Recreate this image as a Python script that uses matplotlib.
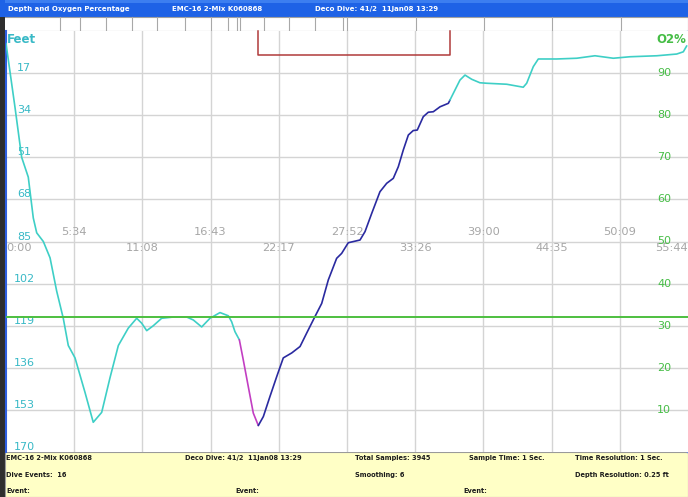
import numpy as np
import matplotlib
matplotlib.use("Agg")
import matplotlib.pyplot as plt
from matplotlib.patches import Rectangle
from matplotlib.transforms import blended_transform_factory, offset_copy

# ---------------- data ----------------
time_min = [0.0, 0.74, 1.28, 1.82, 2.23, 2.51, 3.05, 3.60, 4.14, 4.68,
            5.09, 5.64, 6.46, 7.13, 7.82, 8.50, 9.18, 9.99, 10.68, 11.09,
            11.50, 12.04, 12.72, 13.67, 14.77, 15.31, 15.99, 16.67, 17.49, 18.17,
            18.44, 18.71, 19.07, 19.39, 19.80, 20.21, 20.62, 21.03, 21.57, 22.12,
            22.66, 23.35, 24.03, 24.57, 25.25, 25.80, 26.34, 27.02, 27.43, 27.97,
            28.93, 29.34, 29.89, 30.56, 31.11, 31.65, 32.06, 32.47, 32.88, 33.28,
            33.61, 34.10, 34.51, 34.92, 35.47, 36.15, 36.42, 37.10, 37.51, 38.06,
            38.73, 39.28, 40.92, 42.27, 42.55, 43.09, 43.50, 45.00, 46.64, 48.13,
            49.63, 50.99, 53.18, 54.81, 55.35, 55.63]
depth_ft = [5, 31, 51, 59, 75.5, 81.5, 85, 91.6, 105, 116,
            127, 132, 146, 158, 154, 140, 127, 120, 116, 118,
            121, 119, 116, 115.5, 115.5, 116.7, 119.5, 116, 113.7, 115,
            117.4, 121.4, 124.7, 132.8, 143.6, 154.3, 159.3, 155.7, 147.6, 139.6,
            132, 130, 127.4, 122, 115.3, 110, 100.5, 91.8, 89.8, 85.5,
            84.4, 81, 73.6, 64.9, 61.5, 59.5, 54.8, 48, 42, 40.2,
            40, 34.6, 32.8, 32.6, 30.6, 29.2, 26.5, 19.8, 17.8, 19.5,
            20.9, 21.1, 21.5, 22.7, 21.1, 14.4, 11.3, 11.3, 11, 10,
            11, 10.4, 10, 9.3, 8.4, 6]

fast_descent_start = 19.07   # magenta segment start (min)
bottom_time = 20.62          # blue ascent start (min)
ascent_end = 36.28           # blue ascent end (min)
o2_percent = 32

dive_seconds = 3344
time_tick_sec = [0, 334, 668, 1003, 1337, 1672, 2006, 2340, 2675, 3009, 3344]
time_labels = ["0:00", "5:34", "11:08", "16:43", "22:17", "27:52",
               "33:26", "39:00", "44:35", "50:09", "55:44"]
depth_ticks = [17, 34, 51, 68, 85, 102, 119, 136, 153, 170]
o2_ticks = [10, 20, 30, 40, 50, 60, 70, 80, 90]

header_texts = ["Depth and Oxygen Percentage", "EMC-16 2-Mix K060868",
                "Deco Dive: 41/2  11Jan08 13:29"]
footer_row1 = ["EMC-16 2-Mix K060868", "Deco Dive: 41/2  11Jan08 13:29",
               "Total Samples: 3945", "Sample Time: 1 Sec.", "Time Resolution: 1 Sec."]
footer_row2 = ["Dive Events:  16", "Smoothing: 6", "Depth Resolution: 0.25 ft"]
footer_row3 = ["Event:", "Event:", "Event:"]

# ---------------- colours ----------------
CYAN = "#3ECFC6"
MAGENTA = "#C23EC2"
BLUE = "#2A2AA0"
GREEN = "#4DBF3F"
DEPTH_LBL = "#38B9C6"
O2_LBL = "#46BD46"
TIME_LBL = "#A6A6A6"
GRID = "#D4D4D4"

W, H = 688, 497
fig = plt.figure(figsize=(W / 100, H / 100), dpi=100)

# overlay in pixel coordinates for the window chrome
ov = fig.add_axes([0, 0, 1, 1], zorder=0)
ov.set_xlim(0, W)
ov.set_ylim(H, 0)
ov.axis("off")

# header bar
ov.add_patch(Rectangle((0, 0), W, 17, color="#1E62E6", lw=0))
ov.add_patch(Rectangle((0, 0), W, 3, color="#3C7EF0", lw=0))
for x, s in zip([8, 172, 315], header_texts):
    ov.text(x, 9, s, color="white", fontsize=5.0, fontweight="bold",
            va="center", ha="left")
# strip
ov.add_patch(Rectangle((0, 17), W, 14, facecolor="white", edgecolor="#A0A0A0", lw=0.8))
for x in [60, 80, 106, 132, 157, 185, 211, 228, 237, 240, 264, 289, 315,
          343, 347, 416, 484, 552, 621]:
    ov.plot([x, x], [17, 31], color="#A8A8A8", lw=0.8)
# left dark frame
ov.add_patch(Rectangle((0, 0), 5, H, color="#2E2E2E", lw=0))
ov.add_patch(Rectangle((0, 0), 5, 17, color="#1E62E6", lw=0))
ov.plot([W - 1, W - 1], [31, 452], color="#6A8FE8", lw=1.0)
# footer
ov.add_patch(Rectangle((5, 452), W - 5, H - 452, facecolor="#FFFFC6",
                       edgecolor="#9A9A9A", lw=0.8))
fkw = dict(color="#1C1C1C", fontsize=4.8, fontweight="bold", va="center", ha="left")
for cx, s in zip([6, 185, 355, 469, 575], footer_row1):
    ov.text(cx, 458, s, **fkw)
for cx, s in zip([6, 355, 575], footer_row2):
    ov.text(cx, 475, s, **fkw)
for cx, s in zip([6, 235, 463], footer_row3):
    ov.text(cx, 491, s, **fkw)

# ---------------- main plot ----------------
ax = fig.add_axes([6 / W, 45 / H, 682 / W, 421 / H], zorder=1)
t_end = dive_seconds / 60
ax.set_xlim(0, t_end)
ax.set_ylim(170, 0)
ax.set_xticks([])
ax.set_yticks([])
for sp in ["top", "right", "bottom"]:
    ax.spines[sp].set_visible(False)
ax.spines["left"].set_color("#2F5FE0")
ax.spines["left"].set_linewidth(1.5)

time_ticks = [s / 60 for s in time_tick_sec]
for tt in time_ticks[1:-1]:
    ax.axvline(tt, color=GRID, lw=1.0, zorder=1)
for d in depth_ticks[:-1]:
    ax.axhline(d, color=GRID, lw=1.0, zorder=1)

ax2 = ax.twinx()
ax2.set_ylim(0, 100)
ax2.set_yticks([])
ax2.axis("off")
ax2.axhline(o2_percent, color=GREEN, lw=1.4, zorder=2)

# depth profile segments
t = np.array(time_min)
d = np.array(depth_ft)


def seg(a, b):
    inner = (t > a) & (t < b)
    ts = np.concatenate([[a], t[inner], [b]])
    return ts, np.interp(ts, t, d)


for (a, b), c in [((t[0], fast_descent_start), CYAN),
                  ((fast_descent_start, bottom_time), MAGENTA),
                  ((bottom_time, ascent_end), BLUE),
                  ((ascent_end, t[-1]), CYAN)]:
    ts, ds = seg(a, b)
    ax.plot(ts, ds, color=c, lw=1.2, zorder=4, solid_capstyle="round")

# red bracket over the ascent period
ax.plot([bottom_time, bottom_time, ascent_end, ascent_end],
        [0, 9.7, 9.7, 0], color="#B03A3A", lw=1.1, zorder=5, clip_on=False)

# depth labels (left)
tr_l = blended_transform_factory(ax.transAxes, ax.transData)
for dv in depth_ticks:
    ax.text(0.0264, dv, str(dv), color=DEPTH_LBL, fontsize=8,
            ha="center", va="center",
            transform=offset_copy(tr_l, fig=fig, x=0, y=3.6, units="points"),
            zorder=3)
ax.text(0.002, 0, "Feet", color=DEPTH_LBL, fontsize=8.5, fontweight="bold",
        ha="left", va="top",
        transform=offset_copy(tr_l, fig=fig, x=0, y=-1.5, units="points"))

# O2 labels (right)
tr_r = blended_transform_factory(ax2.transAxes, ax2.transData)
for ov2 in o2_ticks:
    ax2.text(0.965, ov2, str(ov2), color=O2_LBL, fontsize=8,
             ha="center", va="center", transform=tr_r, zorder=3)
ax2.text(0.998, 100, "O2%", color=O2_LBL, fontsize=8.5, fontweight="bold",
         ha="right", va="top",
         transform=offset_copy(tr_r, fig=fig, x=0, y=-1.5, units="points"))

# time labels straddling the 85 ft line
tr_t = ax.transData
for i, (tt, lab) in enumerate(zip(time_ticks, time_labels)):
    ha = "center"
    if i == 0:
        ha = "left"
    elif i == len(time_ticks) - 1:
        ha = "right"
    dy = -4.5 if i % 2 == 0 else 6.5
    ax.text(tt, 85, lab, color=TIME_LBL, fontsize=8.2, ha=ha, va="center",
            transform=offset_copy(tr_t, fig=fig, x=0, y=dy, units="points"),
            zorder=3)

fig.savefig("out.png", dpi=100)
